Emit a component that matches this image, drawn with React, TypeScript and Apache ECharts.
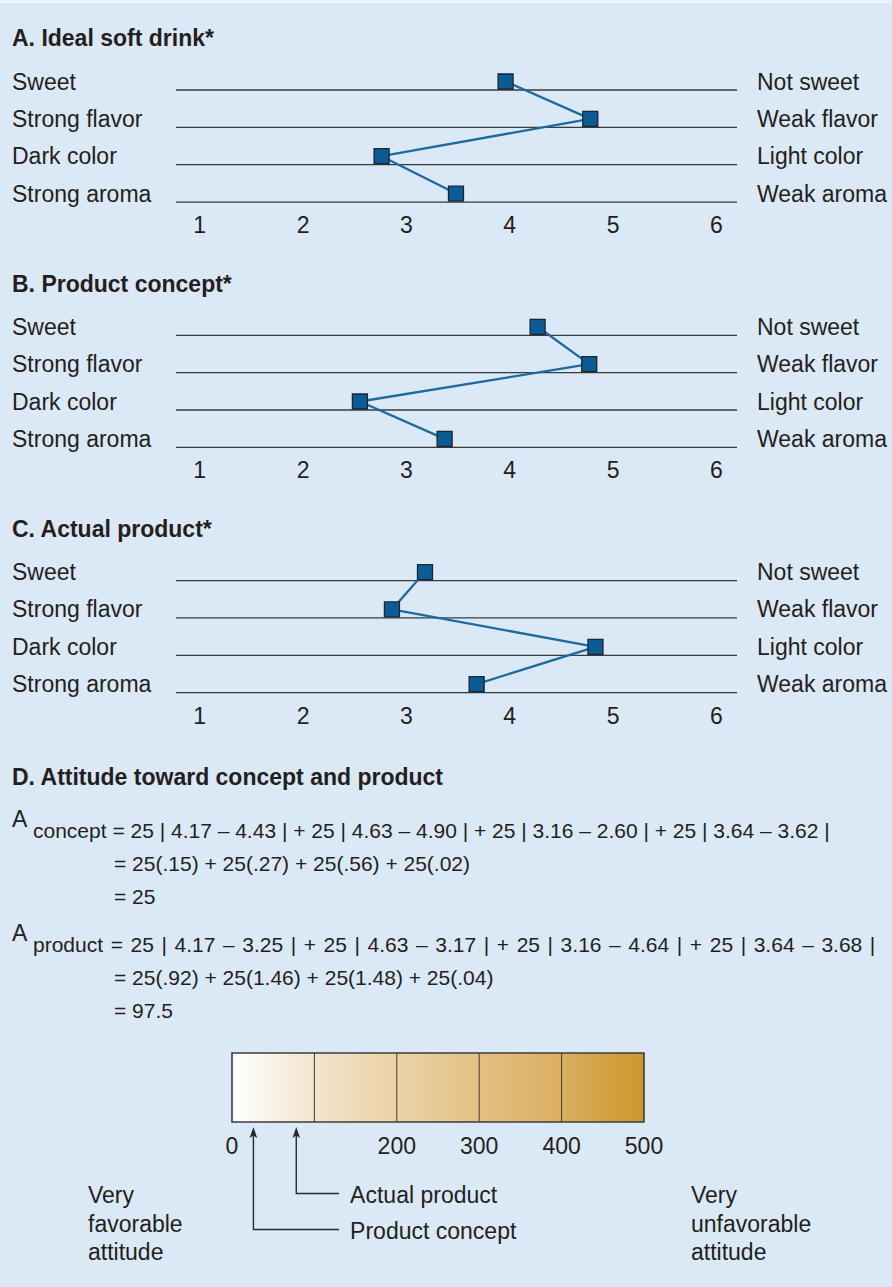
import React, { useEffect, useRef } from "react";
import * as echarts from "echarts";

// ---------- data ----------
const LEFT_LABELS = ["Sweet", "Strong flavor", "Dark color", "Strong aroma"];
const RIGHT_LABELS = ["Not sweet", "Weak flavor", "Light color", "Weak aroma"];
const PANEL_TITLES = ["A. Ideal soft drink*", "B. Product concept*", "C. Actual product*"];
const idealValues = [3.96, 4.78, 2.76, 3.48];
const conceptValues = [4.27, 4.77, 2.55, 3.37];
const productValues = [3.18, 2.86, 4.83, 3.68];
const PANEL_VALUES = [idealValues, conceptValues, productValues];
const SCALE_TICKS = [1, 2, 3, 4, 5, 6];
const SCALE_MIN = 0.77;
const SCALE_MAX = 6.2;

const ATTITUDE_TITLE = "D. Attitude toward concept and product";
const CONCEPT_LINES = [
  "concept = 25 | 4.17 \u2013 4.43 | + 25 | 4.63 \u2013 4.90 | + 25 | 3.16 \u2013 2.60 | + 25 | 3.64 \u2013 3.62 |",
  "= 25(.15) + 25(.27) + 25(.56) + 25(.02)",
  "= 25",
];
const PRODUCT_LINES = [
  "product = 25 | 4.17 \u2013 3.25 | + 25 | 4.63 \u2013 3.17 | + 25 | 3.16 \u2013 4.64 | + 25 | 3.64 \u2013 3.68 |",
  "= 25(.92) + 25(1.46) + 25(1.48) + 25(.04)",
  "= 97.5",
];
const ATTITUDE_MIN = 0;
const ATTITUDE_MAX = 500;
const ATTITUDE_SEGMENTS = [0, 100, 200, 300, 400, 500];
const ATTITUDE_TICKS = [0, 200, 300, 400, 500];
const attitudeMarkers = [26, 78];
const attitudeMarkerLabels = ["Product concept", "Actual product"];
const LEFT_END_TEXT = "Very\nfavorable\nattitude";
const RIGHT_END_TEXT = "Very\nunfavorable\nattitude";

// ---------- style / layout ----------
const FONT = "'Liberation Sans', Arial, Helvetica, sans-serif";
const INK = "#231f20";
const BG = "#dbe8f5";
const RULE = "#3a3a3a";
const LINE_BLUE = "#1d6a9e";
const MARKER_FILL = "#0b5c94";
const PANEL_TOP0 = 81.5;
const PANEL_STEP = 245.3;
const ROW_GAP = 37.35;
const RULE_OFFSET = 8.5;
const ARROW_DROPS = [107.5, 71.5];
const ELBOW_END_VALUE = 130;

// widen word spacing slightly (the printed product line is set looser)
const loosen = (s: string) => s.split(" ").join(" \u200A");

export default function App() {
  const ref = useRef<HTMLDivElement>(null);

  useEffect(() => {
    if (!ref.current) return;
    const chart = echarts.init(ref.current, null, { renderer: "svg" });

    const grids: any[] = [];
    const xAxes: any[] = [];
    const yAxes: any[] = [];
    const series: any[] = [];
    const graphics: any[] = [];

    PANEL_VALUES.forEach((vals, i) => {
      const top = PANEL_TOP0 + PANEL_STEP * i;
      grids.push({ left: 176, top, width: 561, height: ROW_GAP * 3 });
      xAxes.push({
        gridIndex: i,
        type: "value",
        min: SCALE_MIN,
        max: SCALE_MAX,
        axisLine: { show: false },
        axisTick: { show: false },
        splitLine: { show: false },
        axisLabel: {
          customValues: SCALE_TICKS,
          formatter: (v: number) => (SCALE_TICKS.includes(v) ? String(v) : ""),
          fontSize: 23,
          fontFamily: FONT,
          color: INK,
          margin: 20,
        },
      });
      yAxes.push({
        gridIndex: i,
        type: "category",
        data: LEFT_LABELS,
        inverse: true,
        boundaryGap: false,
        position: "left",
        axisLine: { show: false },
        axisTick: { show: false },
        splitLine: { show: false },
        axisLabel: {
          interval: 0,
          align: "left",
          margin: 164,
          fontSize: 23,
          fontFamily: FONT,
          color: INK,
          padding: [3, 0, 0, 0],
        },
      });
      yAxes.push({
        gridIndex: i,
        type: "category",
        data: RIGHT_LABELS,
        inverse: true,
        boundaryGap: false,
        position: "right",
        axisLine: { show: false },
        axisTick: { show: false },
        splitLine: { show: false },
        axisLabel: {
          interval: 0,
          align: "left",
          margin: 20,
          fontSize: 23,
          fontFamily: FONT,
          color: INK,
          padding: [3, 0, 0, 0],
        },
      });
      // rules (one per attribute), drawn a few pixels below the row centre
      series.push({
        type: "custom",
        xAxisIndex: i,
        yAxisIndex: 2 * i,
        clip: false,
        z: 1,
        silent: true,
        encode: { x: [0, 2], y: 1 },
        data: LEFT_LABELS.map((_, r) => [SCALE_MIN, r, SCALE_MAX]),
        renderItem: (params: any, api: any) => {
          const p1 = api.coord([api.value(0), api.value(1)]);
          const p2 = api.coord([api.value(2), api.value(1)]);
          return {
            type: "line",
            shape: { x1: p1[0], y1: p1[1] + RULE_OFFSET, x2: p2[0], y2: p2[1] + RULE_OFFSET },
            style: { stroke: RULE, lineWidth: 1.3 },
          };
        },
      });
      series.push({
        type: "line",
        xAxisIndex: i,
        yAxisIndex: 2 * i,
        z: 3,
        data: vals.map((v, r) => [v, r]),
        symbol: "rect",
        symbolSize: 15,
        lineStyle: { color: LINE_BLUE, width: 2.3 },
        itemStyle: { color: MARKER_FILL, borderColor: "#1c2633", borderWidth: 1.3 },
      });
      graphics.push({
        type: "text",
        left: 12,
        top: top - 43.2 - 11.5,
        style: { text: PANEL_TITLES[i], fontSize: 23, fontWeight: "bold", fontFamily: FONT, fill: INK },
      });
    });

    // attitude scale grid
    grids.push({ left: 232, top: 1053, width: 412, height: 69 });
    xAxes.push({
      gridIndex: 3,
      type: "value",
      min: ATTITUDE_MIN,
      max: ATTITUDE_MAX,
      interval: 100,
      axisLine: { show: false },
      axisTick: { show: false },
      splitLine: { show: false },
      axisLabel: {
        customValues: ATTITUDE_TICKS,
        formatter: (v: number) => (ATTITUDE_TICKS.includes(v) ? String(v) : ""),
        fontSize: 23,
        fontFamily: FONT,
        color: INK,
        margin: 12,
      },
    });
    yAxes.push({ gridIndex: 3, type: "value", min: 0, max: 1, show: false });
    series.push({
      type: "custom",
      xAxisIndex: 3,
      yAxisIndex: 6,
      clip: false,
      silent: true,
      z: 2,
      encode: { x: [0, 1] },
      data: [[ATTITUDE_MIN, ATTITUDE_MAX]],
      renderItem: (params: any, api: any) => {
        const tl = api.coord([api.value(0), 1]);
        const br = api.coord([api.value(1), 0]);
        const children: any[] = [
          {
            type: "rect",
            shape: { x: tl[0], y: tl[1], width: br[0] - tl[0], height: br[1] - tl[1] },
            style: {
              fill: new echarts.graphic.LinearGradient(0, 0, 1, 0, [
                { offset: 0, color: "#ffffff" },
                { offset: 0.2, color: "#f3e4cf" },
                { offset: 0.4, color: "#ebd2a6" },
                { offset: 0.6, color: "#e3c084" },
                { offset: 0.8, color: "#dbaf61" },
                { offset: 1, color: "#cd972b" },
              ]),
              stroke: "#3c3c3c",
              lineWidth: 1.6,
            },
          },
        ];
        ATTITUDE_SEGMENTS.slice(1, -1).forEach((s) => {
          const p = api.coord([s, 0]);
          children.push({
            type: "line",
            shape: { x1: p[0], y1: tl[1], x2: p[0], y2: br[1] },
            style: { stroke: "#3c3c3c", lineWidth: 1 },
          });
        });
        return { type: "group", children };
      },
    });
    series.push({
      type: "custom",
      xAxisIndex: 3,
      yAxisIndex: 6,
      clip: false,
      silent: true,
      z: 3,
      encode: { x: 0 },
      data: attitudeMarkers.map((v, k) => [v, k]),
      renderItem: (params: any, api: any) => {
        const k = api.value(1);
        const p = api.coord([api.value(0), 0]);
        const end = api.coord([ELBOW_END_VALUE, 0]);
        const tip = p[1] + 5;
        const turn = p[1] + ARROW_DROPS[k];
        const x = p[0];
        return {
          type: "group",
          children: [
            {
              type: "polyline",
              shape: { points: [[x, tip + 8], [x, turn], [end[0], turn]] },
              style: { stroke: "#2a2a2a", lineWidth: 1.4, fill: null },
            },
            {
              type: "polygon",
              shape: { points: [[x, tip], [x - 3.8, tip + 11], [x, tip + 8.5], [x + 3.8, tip + 11]] },
              style: { fill: "#2a2a2a" },
            },
            {
              type: "text",
              x: end[0] + 11,
              y: turn + 1,
              style: {
                text: attitudeMarkerLabels[k],
                fontSize: 23,
                fontFamily: FONT,
                fill: INK,
                verticalAlign: "middle",
                align: "left",
              },
            },
          ],
        };
      },
    });

    // section D texts
    const txt = (text: string, x: number, y: number, size: number, extra: any = {}) => ({
      type: "text",
      x,
      y,
      style: {
        text,
        fontSize: size,
        fontFamily: FONT,
        fill: INK,
        verticalAlign: "middle",
        align: "left",
        ...extra,
      },
    });
    graphics.push(txt(ATTITUDE_TITLE, 12, 776.5, 23, { fontWeight: "bold" }));
    graphics.push(txt("A", 12, 819, 23));
    graphics.push(txt(CONCEPT_LINES[0], 33, 830, 21));
    graphics.push(txt(CONCEPT_LINES[1], 114, 863, 21));
    graphics.push(txt(CONCEPT_LINES[2], 114, 896, 21));
    graphics.push(txt("A", 12, 933, 23));
    graphics.push(txt(loosen(PRODUCT_LINES[0]), 33, 944, 21));
    graphics.push(txt(PRODUCT_LINES[1], 114, 977, 21));
    graphics.push(txt(PRODUCT_LINES[2], 114, 1010, 21));
    graphics.push(txt(LEFT_END_TEXT, 88, 1223.5, 23, { lineHeight: 28.5 }));
    graphics.push(txt(RIGHT_END_TEXT, 691, 1223.5, 23, { lineHeight: 28.5 }));
    graphics.push({
      type: "rect",
      shape: { x: 0, y: 0, width: 892, height: 3 },
      style: { fill: "#eef3f8" },
      silent: true,
    });

    chart.setOption({
      animation: false,
      backgroundColor: BG,
      grid: grids,
      xAxis: xAxes,
      yAxis: yAxes,
      series,
      graphic: graphics,
    });

    return () => chart.dispose();
  }, []);

  return (
    <div
      ref={ref}
      style={{ position: "absolute", left: 0, top: 0, width: 892, height: 1287 }}
    />
  );
}
